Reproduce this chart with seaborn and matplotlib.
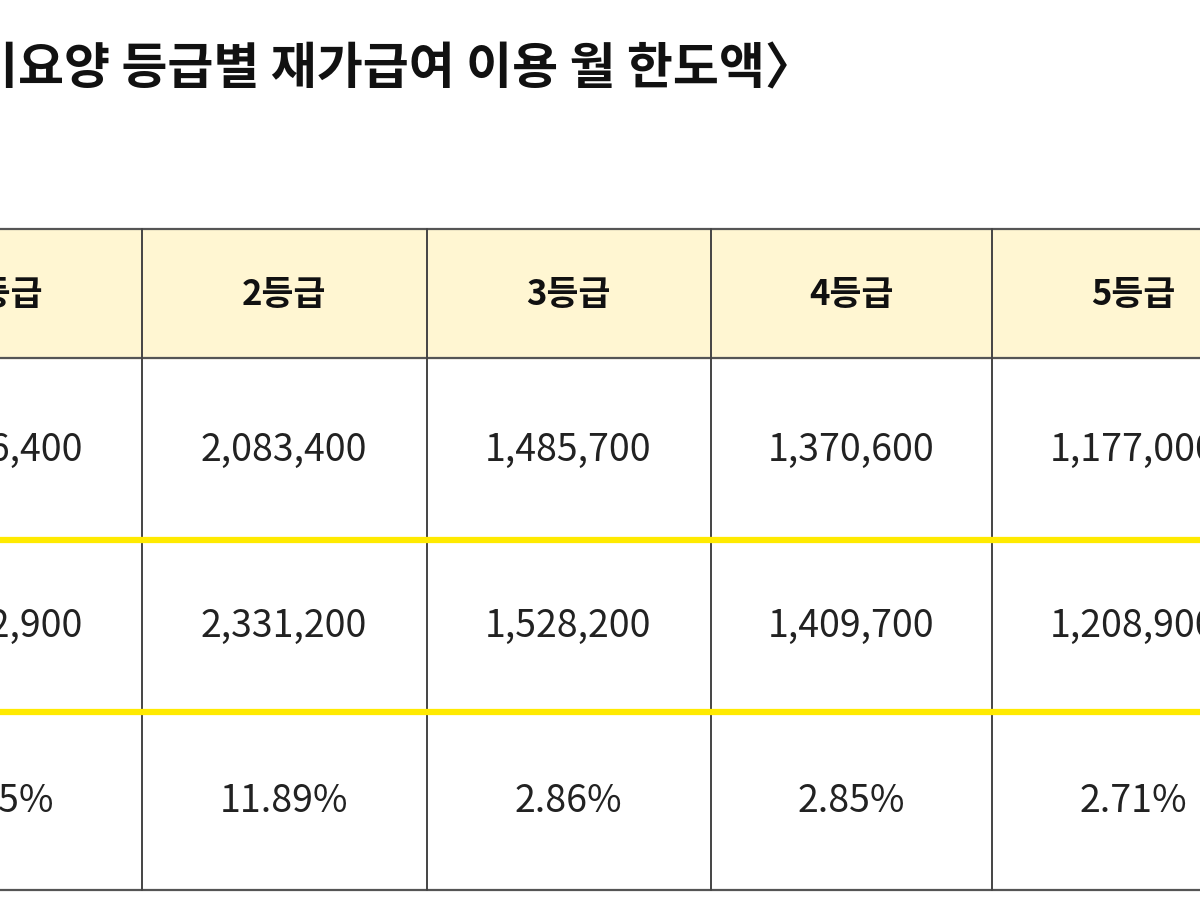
import matplotlib
matplotlib.use("Agg")
import matplotlib.pyplot as plt
import seaborn as sns

sns.set_theme(style="white")
plt.rcParams['font.family'] = ['Noto Sans CJK KR', 'DejaVu Sans']

title = "〈장기요양 등급별 재가급여 이용 월 한도액〉"
grades = ["1등급", "2등급", "3등급", "4등급", "5등급"]
row_prev = ["2,306,400", "2,083,400", "1,485,700", "1,370,600", "1,177,000"]
row_new = ["2,512,900", "2,331,200", "1,528,200", "1,409,700", "1,208,900"]
row_rate = ["8.95%", "11.89%", "2.86%", "2.85%", "2.71%"]

fig = plt.figure(figsize=(12, 9), dpi=100)
ax = fig.add_axes([0, 0, 1, 1])
ax.set_xlim(0, 1200)
ax.set_ylim(900, 0)
ax.axis("off")

col_x = [0, 284, 568, 851, 1133]
vlines = [142, 427, 711, 992]
row_y = [294, 450, 626, 802]

ax.text(815, 70, title, ha="right", va="center", fontsize=36, fontweight="bold", color="#111")

ax.fill_between([0, 1200], 230, 358, color="#FFF6D2", zorder=0)
for y in [229, 358, 890]:
    ax.plot([0, 1200], [y, y], color="#555", lw=1.6, zorder=2)
for y in [540, 712]:
    ax.plot([0, 1200], [y, y], color="#FFEA00", lw=4.5, zorder=3)
for x in vlines:
    ax.plot([x, x], [229, 890], color="#444", lw=1.4, zorder=2)

for i, x in enumerate(col_x):
    ax.text(x, row_y[0], grades[i], ha="center", va="center", fontsize=25, fontweight="bold", color="#111")
    ax.text(x, row_y[1], row_prev[i], ha="center", va="center", fontsize=27, color="#222")
    ax.text(x, row_y[2], row_new[i], ha="center", va="center", fontsize=27, color="#222")
    ax.text(x, row_y[3], row_rate[i], ha="center", va="center", fontsize=27, color="#222")

fig.savefig("out.png", dpi=100)
